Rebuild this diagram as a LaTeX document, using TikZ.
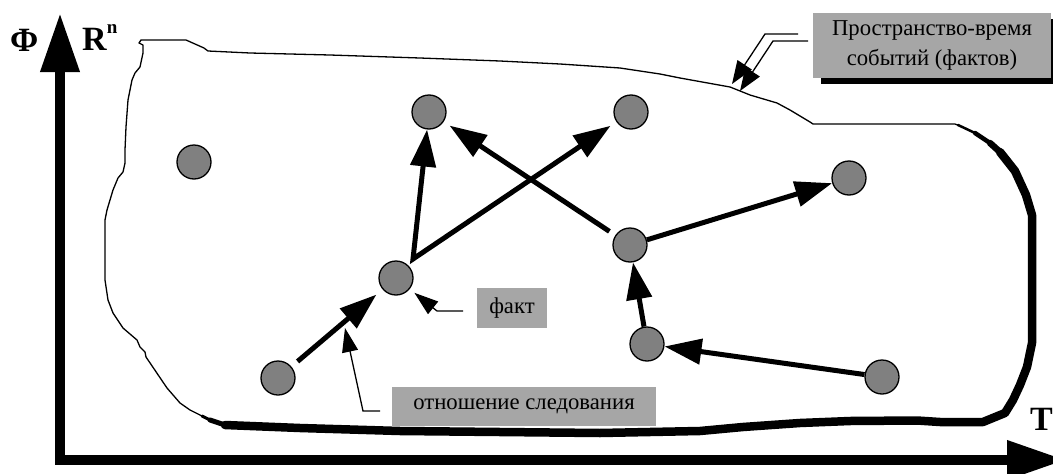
\documentclass[tikz,border=0pt]{standalone}
\usepackage{fontspec}
\setmainfont{Liberation Serif}
\usetikzlibrary{arrows.meta,calc}
\definecolor{evgray}{HTML}{808080}
\definecolor{boxgray}{HTML}{A6A6A6}
\tikzset{
  event/.style={circle, draw=black, line width=1.3pt, fill=evgray,
                minimum size=34pt, inner sep=0pt},
  bighead/.tip={Triangle[length=37pt,width=25pt]},
  follows/.style={line width=5pt, line join=miter, -bighead},
  leader/.style={line width=1.3pt, -{Triangle[length=24pt,width=16pt]}},
  smallleader/.style={line width=1.3pt, -{Triangle[length=23pt,width=17pt]}},
  axis/.style={line width=10pt, -{Triangle[length=59pt,width=37pt]}},
  label/.style={fill=boxgray, inner sep=0pt, align=center,
                font=\fontsize{22.7}{30}\selectfont},
  axislabel/.style={inner sep=0pt, anchor=base west,
                    font=\fontsize{34}{34}\selectfont\bfseries},
}
\begin{document}
\begin{tikzpicture}[x=1pt,y=-1pt]
\useasboundingbox (0,0) rectangle (1053,474);

% coordinate axes
\coordinate (origin) at (60,460);
\coordinate (ytip) at (60,13);
\coordinate (xtip) at (1066,460);
\draw[axis] ([yshift=-4]origin) -- (ytip);
\draw[axis] ([xshift=-5]origin) -- (xtip);
\node[axislabel] (phi) at (10,51) {Φ};
\node[axislabel] (rn) at (82,50) {R\raisebox{17pt}{\fontsize{19}{19}\selectfont n}};
\node[axislabel] (tt) at (1030,430) {T};

% region of events: thin outline
\draw[line width=1.3pt, line join=round]
  (143,45) -- (139,43) -- (141,40) -- (147,40) -- (186,40) -- (204,48)
  -- (208,51) -- (250,53) -- (330,55) -- (420,58) -- (500,61) -- (560,64)
  -- (620,68) -- (660,74) -- (680,78) -- (730,87) -- (750,95) -- (777,103)
  -- (790,110) -- (810,122) -- (813,124) -- (955,124) -- (967,129)
  -- (985,139) -- (1000,152) -- (1015,171) -- (1026,195) -- (1032,215)
  -- (1032,343) -- (1027,367) -- (1020,385) -- (1013,400) -- (1005,413)
  -- (983,422) -- (940,422) -- (917,420.5) -- (850,421) -- (800,423)
  -- (743,427) -- (700,431) -- (600,433) -- (500,432) -- (400,431)
  -- (300,428) -- (220,425) -- (205,418) -- (200,415) -- (190,410)
  -- (180,403) -- (167,388) -- (146,357) -- (145,352) -- (140,347)
  -- (137,340) -- (123,328) -- (113,313) -- (108,300) -- (105,280)
  -- (105,220) -- (107,210) -- (113,190) -- (118,178) -- (123,172)
  -- (125,163) -- (125,150) -- (126,127) -- (128,100) -- (132,80)
  -- (135,73) -- (140,67) -- (143,53) -- cycle;
% heavy right and lower edge
\draw[line width=2.5pt, line join=round, line cap=round]
  (958,125) -- (975,133);
\draw[line width=4.5pt, line join=round, line cap=round]
  (975,133) -- (990,143);
\draw[line width=6.5pt, line join=round, line cap=round]
  (990,143) -- (1000,152);
\draw[line width=8.5pt, line join=round, line cap=round]
  (1000,152) -- (1015,171) -- (1026,195) -- (1032,215)
  -- (1032,343) -- (1027,367) -- (1020,385) -- (1013,400) -- (1005,413)
  -- (983,422) -- (940,422) -- (917,420.5) -- (850,421) -- (800,423)
  -- (743,427) -- (700,431) -- (600,433) -- (500,432) -- (400,431)
  -- (300,428) -- (225,425);
\draw[line width=5pt, line join=round, line cap=round]
  (225,425) -- (210,420);
\draw[line width=3pt, line join=round, line cap=round]
  (210,420) -- (202,416);

% events
\node[event] (lone) at (194,162) {};
\node[event] (top)  at (429,112) {};
\node[event] (topr) at (631,112) {};
\node[event] (fact) at (396,278) {};
\node[event] (mid)  at (630,245) {};
\node[event] (far)  at (849,178) {};
\node[event] (low)  at (647,344) {};
\node[event] (lowr) at (882,377) {};
\node[event] (bl)   at (278,378) {};

% succession relations
\coordinate (fork) at (413,259);
\draw[follows, shorten <=8pt, shorten >=8pt] (bl) -- (fact);
\draw[follows, bighead-bighead, shorten >=7pt] (top) -- (fork) -- (topr);
\draw[follows, shorten <=7pt, shorten >=7pt] (mid) -- (top);
\draw[follows] (mid) -- (far);
\draw[follows] (low) -- (mid);
\draw[follows] (lowr) -- (low);

% caption boxes
\fill[black] (821,19) rectangle (1059,84);
\node[label, minimum width=238pt, minimum height=65pt] (stbox) at (932,45.5)
  {Пространство-время\\событий (фактов)};
\node[label, minimum width=70pt, minimum height=40pt] (fbox) at (512,308) {факт};
\node[label, minimum width=264pt, minimum height=39pt] (rbox) at (524,406.5)
  {отношение следования};

% leaders
\coordinate (st1) at (798,34);
\coordinate (st1b) at (765,34);
\coordinate (st1e) at (732,84);
\coordinate (st2) at (808,41);
\coordinate (st2b) at (773,41);
\coordinate (st2e) at (740,91);
\draw[smallleader] (st1) -- (st1b) -- (st1e);
\draw[smallleader] (st2) -- (st2b) -- (st2e);

\coordinate (fl) at (463,311);
\coordinate (flb) at (437,311);
\draw[leader, shorten >=6pt] (fl) -- (flb) -- (fact);

\coordinate (rl) at (380,411);
\coordinate (rlb) at (363,411);
\coordinate (rlend) at (345,328);
\draw[leader] (rl) -- (rlb) -- (rlend);
\end{tikzpicture}
\end{document}
